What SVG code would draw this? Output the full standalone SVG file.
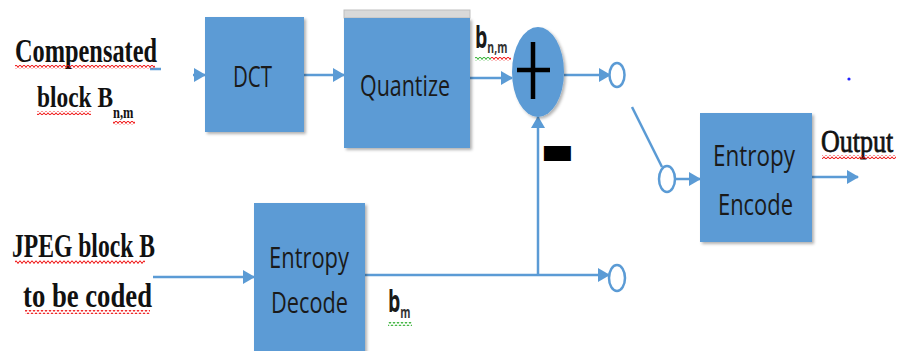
<svg xmlns="http://www.w3.org/2000/svg" width="899" height="351" viewBox="0 0 899 351">
<style>
.box{fill:#5B9BD5;filter:url(#sh)}
.lbl{font-family:"Open Sans","Liberation Sans",sans-serif;font-size:30px;fill:#1a1a1a;text-anchor:start}
.ser{font-family:"Liberation Serif","Times New Roman",serif;font-weight:bold;fill:#111}
.con{stroke:#5B9BD5;stroke-width:2.5;fill:none}
.arr{stroke:#5B9BD5;stroke-width:2.5;fill:none;marker-end:url(#ah)}
.sw{fill:#fff;stroke:#5B9BD5;stroke-width:2.5}
</style>
<defs>
<filter id="sh" x="-10%" y="-10%" width="125%" height="125%">
<feDropShadow dx="2" dy="2" stdDeviation="1.5" flood-color="#000" flood-opacity="0.3"/>
</filter>
<marker id="ah" markerUnits="userSpaceOnUse" markerWidth="12" markerHeight="14" refX="11" refY="7" orient="auto">
<path d="M0 0 L12 7 L0 14 Z" fill="#5B9BD5"/>
</marker>
<pattern id="wr" width="4" height="4" patternUnits="userSpaceOnUse">
<path d="M0 0.5 L2 3.5 L4 0.5" stroke="#e00" stroke-width="1" fill="none"/>
</pattern>
<pattern id="wg" width="4" height="4" patternUnits="userSpaceOnUse">
<path d="M0 0.5 L2 3.5 L4 0.5" stroke="#2a2" stroke-width="1" fill="none"/>
</pattern>
</defs>
<rect width="899" height="351" fill="#fff"/>

<g id="connectors">
<path class="con" d="M150 69 H161"/>
<path class="arr" d="M193 75 H205"/>
<path class="arr" d="M304 75 H344"/>
<path class="arr" d="M470 78 H512"/>
<path class="arr" d="M564 75 H610"/>
<path class="con" d="M632 107 L662 167"/>
<path class="arr" d="M675 179 H700"/>
<path class="arr" d="M812 177 H858"/>
<path class="arr" d="M153 277 H254"/>
<path class="arr" d="M365 275 H609"/>
<path class="arr" d="M538 275 V117"/>
</g>

<g id="input-compensated">
<text class="ser" x="15" y="62" font-size="34" textLength="142" lengthAdjust="spacingAndGlyphs">Compensated</text>
<rect x="15" y="65" width="140" height="4" fill="url(#wr)"/>
<text class="ser" transform="translate(37 107) scale(0.78 1)" x="0" y="0" font-size="30">block B<tspan font-size="16" dy="11">n,m</tspan></text>
<rect x="37" y="111" width="54" height="4" fill="url(#wr)"/>
<rect x="113" y="121" width="22" height="4" fill="url(#wr)"/>
</g>

<g id="input-jpeg">
<text class="ser" x="12" y="257" font-size="34" textLength="143" lengthAdjust="spacingAndGlyphs">JPEG block B</text>
<rect x="15" y="260" width="130" height="4" fill="url(#wr)"/>
<text class="ser" x="23" y="307" font-size="34" textLength="129" lengthAdjust="spacingAndGlyphs">to be coded</text>
<rect x="25" y="310" width="125" height="4" fill="url(#wr)"/>
</g>

<g id="dct">
<rect class="box" x="205" y="17" width="99" height="115"/>
<text class="lbl" x="233" y="87" textLength="39" lengthAdjust="spacingAndGlyphs">DCT</text>
</g>

<g id="quantize">
<rect x="344" y="10" width="126" height="8" fill="#d9d9d9" stroke="#bfbfbf" stroke-width="1"/>
<rect class="box" x="344" y="18" width="126" height="130"/>
<text class="lbl" x="360" y="96" textLength="90" lengthAdjust="spacingAndGlyphs">Quantize</text>
</g>

<g id="label-bnm">
<text class="lbl" transform="translate(475 48) scale(0.65 1)" x="0" y="0" font-size="27" font-weight="bold">b<tspan font-size="16" dy="5" fill="#333">n,m</tspan></text>
<rect x="475" y="57" width="16" height="4" fill="url(#wg)"/>
<rect x="491" y="57" width="20" height="4" fill="url(#wr)"/>
</g>

<g id="adder">
<ellipse cx="538" cy="72" rx="26" ry="45" fill="#5B9BD5" filter="url(#sh)"/>
<path d="M517 70 H550 M533 42 V99" stroke="#000" stroke-width="4.5" fill="none"/>
</g>

<g id="minus">
<text x="543" y="161" font-family="DejaVu Sans,sans-serif" font-size="30" fill="#000" stroke="#000" stroke-width="4">▬</text>
</g>

<g id="switch">
<ellipse class="sw" cx="617" cy="75" rx="7.5" ry="12"/>
<ellipse class="sw" cx="667" cy="179" rx="8" ry="13"/>
<ellipse class="sw" cx="617" cy="278" rx="8" ry="13"/>
</g>

<g id="entropy-decode">
<rect class="box" x="254" y="203" width="111" height="160"/>
<text class="lbl" x="269" y="268" textLength="80" lengthAdjust="spacingAndGlyphs">Entropy</text>
<text class="lbl" x="271" y="313" textLength="77" lengthAdjust="spacingAndGlyphs">Decode</text>
</g>

<g id="label-bm">
<text class="lbl" transform="translate(388 312) scale(0.65 1)" x="0" y="0" font-size="27" font-weight="bold">b<tspan font-size="16" dy="6" fill="#333">m</tspan></text>
<rect x="388" y="322" width="24" height="4" fill="url(#wg)"/>
</g>

<g id="entropy-encode">
<rect class="box" x="700" y="113" width="112" height="129"/>
<text class="lbl" x="713" y="166" textLength="82" lengthAdjust="spacingAndGlyphs">Entropy</text>
<text class="lbl" x="718" y="215" textLength="75" lengthAdjust="spacingAndGlyphs">Encode</text>
</g>

<g id="output">
<text transform="translate(821 152) scale(1 1.25)" x="0" y="0" font-family="Liberation Serif,Times New Roman,serif" font-size="26" fill="#111" stroke="#111" stroke-width="0.6">Output</text>
<rect x="822" y="155" width="74" height="4" fill="url(#wr)"/>
<circle cx="849" cy="79" r="1.6" fill="#22f"/>
</g>
</svg>
